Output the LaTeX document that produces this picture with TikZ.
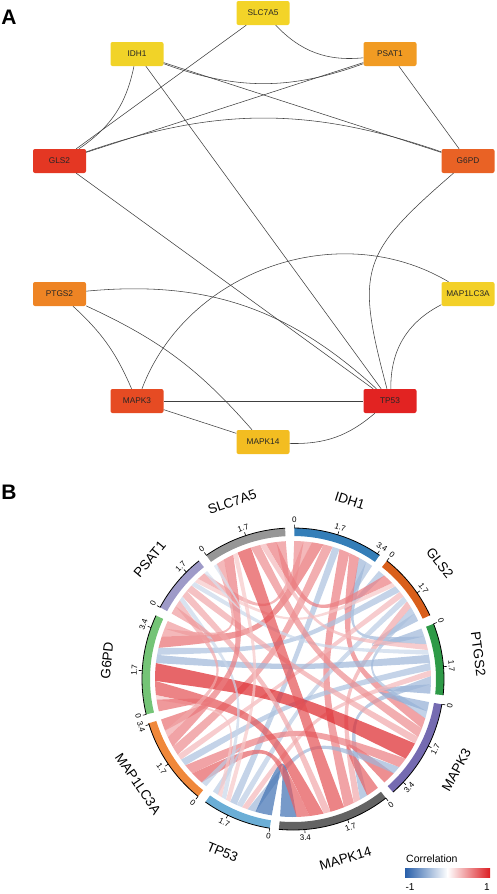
\documentclass[tikz,border=0pt]{standalone}
\usepackage{fontspec}
\setmainfont{Liberation Sans}

% node colours of the network
\definecolor{gSLC}{RGB}{243,212,40}
\definecolor{gIDH}{RGB}{241,211,40}
\definecolor{gPSAT}{RGB}{241,155,35}
\definecolor{gGLS}{RGB}{228,55,35}
\definecolor{gGPD}{RGB}{233,98,37}
\definecolor{gPTGS}{RGB}{238,132,36}
\definecolor{gLC3}{RGB}{243,208,40}
\definecolor{gMKt}{RGB}{230,75,35}
\definecolor{gTP}{RGB}{226,35,34}
\definecolor{gMKf}{RGB}{243,189,33}
% sector colours of the chord plot
\definecolor{sIDH}{RGB}{52,126,184}
\definecolor{sGLS}{RGB}{217,95,27}
\definecolor{sPTGS}{RGB}{46,154,71}
\definecolor{sMKt}{RGB}{117,107,177}
\definecolor{sMKf}{RGB}{99,99,99}
\definecolor{sTP}{RGB}{107,174,214}
\definecolor{sLC3}{RGB}{240,136,58}
\definecolor{sGPD}{RGB}{116,196,118}
\definecolor{sPSAT}{RGB}{158,154,200}
\definecolor{sSLC}{RGB}{150,150,150}
\definecolor{corrpos}{RGB}{220,30,35}
\definecolor{corrneg}{RGB}{40,95,170}

\tikzset{
  gene/.style={fill=#1, rounded corners=2pt, minimum width=53pt, minimum height=24pt, inner sep=0pt, text=black!85, font=\fontsize{8.3}{9}\selectfont},
  ppi/.style={draw=black!75, line width=0.55pt},
  ticklbl/.style={inner sep=0.6pt, font=\fontsize{8}{9}\selectfont},
  seclbl/.style={inner sep=0pt, font=\fontsize{13.5}{15}\selectfont},
  panel/.style={inner sep=0pt, font=\fontsize{21}{24}\selectfont\bfseries}
}

\begin{document}
\begin{tikzpicture}[x=1pt,y=1pt]
  \path[use as bounding box] (0,0) rectangle (496,-894);

  % ---- A: network
  \node[panel] (labA) at (9,-17.5) {A};
  \node[gene=gSLC]  (slc)  at (263,-13)   {SLC7A5};
  \node[gene=gIDH]  (idh)  at (137,-54)   {IDH1};
  \node[gene=gPSAT] (psat) at (390,-54)   {PSAT1};
  \node[gene=gGLS]  (gls)  at (59.5,-161) {GLS2};
  \node[gene=gGPD]  (gpd)  at (468,-161)  {G6PD};
  \node[gene=gPTGS] (ptgs) at (59.5,-294) {PTGS2};
  \node[gene=gLC3]  (lc3)  at (468,-294)  {MAP1LC3A};
  \node[gene=gMKt]  (mk3)  at (137,-401)  {MAPK3};
  \node[gene=gTP]   (tp)   at (390,-401)  {TP53};
  \node[gene=gMKf]  (mk14) at (263,-442)  {MAPK14};

  \draw[ppi] (slc) -- (gls);
  \draw[ppi] (slc) to[bend right=26] (psat);
  \draw[ppi] (idh) to[bend left=22] (gls);
  \draw[ppi] (idh) -- (tp);
  \draw[ppi] (idh) to[bend right=20] (psat);
  \draw[ppi] (idh) -- (gpd);
  \draw[ppi] (psat) -- (gls);
  \draw[ppi] (psat) -- (gpd);
  \draw[ppi] (gls) to[bend left=19] (gpd);
  \draw[ppi] (gls) -- (tp);
  \draw[ppi] (gpd) to[bend right=32, looseness=1.4] (tp);
  \draw[ppi] (ptgs) to[bend left=24] (tp);
  \draw[ppi] (ptgs) to[bend left=12] (mk3);
  \draw[ppi] (ptgs) to[bend left=12] (mk14);
  \draw[ppi] (mk3) to[bend left=50] (lc3);
  \draw[ppi] (mk3) -- (tp);
  \draw[ppi] (mk3) -- (mk14);
  \draw[ppi] (lc3) to[bend right=32] (tp);
  \draw[ppi] (tp) to[bend left=21] (mk14);

  % ---- B: chord plot
  \node[panel] (labB) at (9,-492) {B};
  \begin{scope}[shift={(293,-679)}]
    \def\pairs{1/2/-0.30,1/3/-0.35,1/4/0.45,1/5/0.45,1/6/-0.30,1/7/0.40,1/8/0.50,1/9/0.35,1/10/0.40,%
      2/3/-0.35,2/4/-0.30,2/5/0.30,2/6/-0.25,2/7/0.25,2/8/-0.30,2/9/0.20,2/10/0.45,%
      3/4/-0.40,3/5/-0.35,3/6/0.25,3/7/-0.30,3/8/-0.35,3/9/-0.20,3/10/0.25,%
      4/5/0.55,4/6/-0.35,4/7/0.45,4/8/0.75,4/9/0.30,4/10/0.40,%
      5/6/-0.70,5/7/0.55,5/8/0.60,5/9/0.30,5/10/0.60,%
      6/7/-0.25,6/8/0.20,6/9/-0.20,6/10/0.20,%
      7/8/0.50,7/9/0.30,7/10/0.45,%
      8/9/0.35,8/10/0.35,%
      9/10/-0.15}
    \foreach \i/\j/\v in \pairs {
      \expandafter\xdef\csname cr-\i-\j\endcsname{\v}
      \expandafter\xdef\csname cr-\j-\i\endcsname{\v}
    }
    % sector sums and degrees per unit (gaps of 3.5 degrees)
    \xdef\grand{0}
    \foreach \i in {1,...,10} {
      \xdef\secsum{0}
      \foreach \j in {1,...,10} {
        \ifnum\i=\j\relax\else
          \pgfmathparse{\secsum+abs(\csname cr-\i-\j\endcsname)}
          \xdef\secsum{\pgfmathresult}
        \fi
      }
      \expandafter\xdef\csname sum-\i\endcsname{\secsum}
      \pgfmathparse{\grand+\secsum}
      \xdef\grand{\pgfmathresult}
    }
    \pgfmathsetmacro\dpu{325/\grand}
    \xdef\angnow{89.5}
    \foreach \i in {1,...,10} {
      \expandafter\xdef\csname st-\i\endcsname{\angnow}
      \pgfmathparse{\angnow-\dpu*\csname sum-\i\endcsname}
      \expandafter\xdef\csname en-\i\endcsname{\pgfmathresult}
      \pgfmathparse{\pgfmathresult-3.5}
      \xdef\angnow{\pgfmathresult}
    }
    % place link ends inside each sector
    \foreach \i in {1,...,10} {
      \xdef\posnow{\csname st-\i\endcsname}
      \foreach \k in {1,...,9} {
        \pgfmathtruncatemacro\j{mod(\i-\k+19,10)+1}
        \expandafter\xdef\csname pa-\i-\j\endcsname{\posnow}
        \pgfmathparse{\posnow-\dpu*abs(\csname cr-\i-\j\endcsname)}
        \expandafter\xdef\csname pb-\i-\j\endcsname{\pgfmathresult}
        \xdef\posnow{\pgfmathresult}
      }
    }
    % links
    \foreach \i/\j/\v in \pairs {
      \edef\aA{\csname pa-\i-\j\endcsname}
      \edef\aB{\csname pb-\i-\j\endcsname}
      \edef\bA{\csname pa-\j-\i\endcsname}
      \edef\bB{\csname pb-\j-\i\endcsname}
      \pgfmathtruncatemacro\mixpc{min(100,abs(\v)*130)}
      \ifdim\v pt>0pt \colorlet{lk}{corrpos!\mixpc!white}\else\colorlet{lk}{corrneg!\mixpc!white}\fi
      \fill[lk, fill opacity=0.7] (\aA:138) arc[start angle=\aA, end angle=\aB, radius=138pt]
        .. controls ({0.25*138*(cos(\aB)+cos(\bA))},{0.25*138*(sin(\aB)+sin(\bA))}) .. (\bA:138)
        arc[start angle=\bA, end angle=\bB, radius=138pt]
        .. controls ({0.25*138*(cos(\bB)+cos(\aA))},{0.25*138*(sin(\bB)+sin(\aA))}) .. (\aA:138) -- cycle;
    }
    % sectors, axes and labels
    \foreach \i/\nm/\cl in {1/IDH1/sIDH, 2/GLS2/sGLS, 3/PTGS2/sPTGS, 4/MAPK3/sMKt, 5/MAPK14/sMKf,
                            6/TP53/sTP, 7/MAP1LC3A/sLC3, 8/G6PD/sGPD, 9/PSAT1/sPSAT, 10/SLC7A5/sSLC} {
      \edef\sa{\csname st-\i\endcsname}
      \edef\sb{\csname en-\i\endcsname}
      \fill[\cl] (\sa:143) arc[start angle=\sa, end angle=\sb, radius=143pt]
        -- (\sb:151) arc[start angle=\sb, end angle=\sa, radius=151pt] -- cycle;
      \draw[line width=0.8pt] (\sa:151) arc[start angle=\sa, end angle=\sb, radius=151pt];
      \foreach \t [count=\n] in {0,1.7,3.4} {
        \pgfmathtruncatemacro\ok{(\sa-\sb)>=\dpu*\t}
        \ifnum\ok=1
          \pgfmathsetmacro\tkang{\sa-\dpu*\t}
          \pgfmathsetmacro\na{mod(\tkang+540,360)-180}
          \draw[line width=0.6pt] (\tkang:151) -- (\tkang:154.5);
          \pgfmathtruncatemacro\up{\na>0}
          \ifnum\up=1
            \pgfmathsetmacro\rot{\na-90}
            \node[ticklbl, rotate=\rot, anchor=south] (tk\i-\n) at (\tkang:155.5) {\t};
          \else
            \pgfmathsetmacro\rot{\na+90}
            \node[ticklbl, rotate=\rot, anchor=north] (tk\i-\n) at (\tkang:155.5) {\t};
          \fi
        \fi
      }
      \pgfmathsetmacro\midang{mod((\sa+\sb)/2+540,360)-180}
      \pgfmathtruncatemacro\up{\midang>0}
      \ifnum\up=1
        \pgfmathsetmacro\rot{\midang-90}
        \node[seclbl, rotate=\rot, anchor=south] (sec\i) at (\midang:182) {\nm};
      \else
        \pgfmathsetmacro\rot{\midang+90}
        \node[seclbl, rotate=\rot, anchor=north] (sec\i) at (\midang:182) {\nm};
      \fi
    }
  \end{scope}

  % legend
  \node[anchor=west, inner sep=0pt, font=\fontsize{10.5}{12}\selectfont] (legtitle) at (406,-859) {Correlation};
  \shade[left color=corrneg, right color=white] (405,-868) rectangle (447.5,-877);
  \shade[left color=white, right color=corrpos] (447.5,-868) rectangle (490,-877);
  \node[inner sep=0pt, font=\fontsize{10}{12}\selectfont] (legmin) at (410,-887) {-1};
  \node[inner sep=0pt, font=\fontsize{10}{12}\selectfont] (legmax) at (487,-887) {1};
\end{tikzpicture}
\end{document}
